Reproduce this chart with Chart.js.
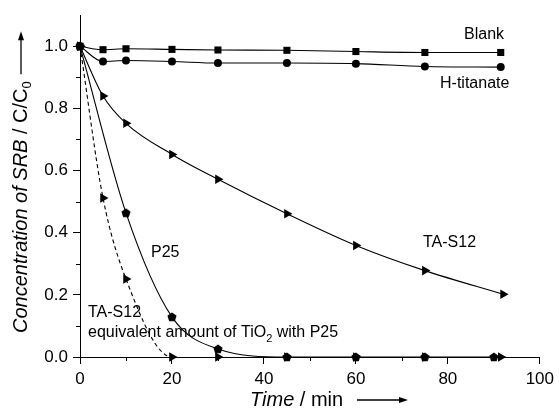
<!DOCTYPE html>
<html>
<head>
<meta charset="utf-8">
<script src="https://cdn.jsdelivr.net/npm/chart.js@4.4.0/dist/chart.umd.min.js"></script>
<style>
  html, body { margin: 0; padding: 0; background: #fff; }
  #wrap { width: 559px; height: 409px; }
</style>
</head>
<body>
<div id="wrap"><canvas id="chart" width="559" height="409"></canvas></div>
<script>
// time (min) and C/C0 values
var timeBlank = [0, 5, 10, 20, 30, 45, 60, 75, 91.5];
var blank = [1.0, 0.989, 0.992, 0.990, 0.988, 0.987, 0.983, 0.980, 0.980];

var timeHT = [0, 5, 10, 20, 30, 45, 60, 75, 91.5];
var hTitanate = [1.0, 0.951, 0.954, 0.951, 0.946, 0.946, 0.944, 0.935, 0.933];

var timeTA = [0, 5, 10, 20, 30, 45, 60, 75, 92];
var taS12 = [1.0, 0.840, 0.752, 0.652, 0.572, 0.461, 0.359, 0.278, 0.202];

var timeP25 = [0, 10, 20, 30, 45, 60, 75, 90];
var p25 = [1.0, 0.464, 0.129, 0.026, 0.0, 0.0, 0.0, 0.0];

var timeEq = [0, 5, 10, 20, 30, 45, 60, 75, 91.5];
var taS12Eq = [1.0, 0.512, 0.251, 0.0, 0.0, 0.0, 0.0, 0.0, 0.0];

var xTicks = [0, 20, 40, 60, 80, 100];
var yTicks = [0.0, 0.2, 0.4, 0.6, 0.8, 1.0];

var FONT = "'Liberation Sans', Arial, sans-serif";

function pts(xs, ys) {
  var out = [];
  for (var i = 0; i < xs.length; i++) out.push({x: xs[i], y: ys[i]});
  return out;
}

// pentagon marker for P25
var pent = document.createElement('canvas');
pent.width = 10; pent.height = 10;
(function() {
  var c = pent.getContext('2d');
  c.beginPath();
  for (var i = 0; i < 5; i++) {
    var a = -Math.PI / 2 + i * 2 * Math.PI / 5;
    var px = 5 + 4.8 * Math.cos(a), py = 5.3 + 4.8 * Math.sin(a);
    if (i === 0) c.moveTo(px, py); else c.lineTo(px, py);
  }
  c.closePath();
  c.fillStyle = '#000';
  c.fill();
})();

function isMajorY(v) { return yTicks.some(function(t) { return Math.abs(t - v) < 1e-6; }); }
function isMajorX(v) { return xTicks.indexOf(Math.round(v)) >= 0 && Math.abs(v - Math.round(v)) < 1e-6; }

function arrow(ctx, x1, y1, x2, y2) {
  var ang = Math.atan2(y2 - y1, x2 - x1);
  ctx.beginPath();
  ctx.moveTo(x1, y1);
  ctx.lineTo(x2 - 7 * Math.cos(ang), y2 - 7 * Math.sin(ang));
  ctx.lineWidth = 1.3;
  ctx.strokeStyle = '#000';
  ctx.stroke();
  ctx.beginPath();
  ctx.moveTo(x2, y2);
  ctx.lineTo(x2 - 9 * Math.cos(ang) + 3 * Math.sin(ang), y2 - 9 * Math.sin(ang) - 3 * Math.cos(ang));
  ctx.lineTo(x2 - 9 * Math.cos(ang) - 3 * Math.sin(ang), y2 - 9 * Math.sin(ang) + 3 * Math.cos(ang));
  ctx.closePath();
  ctx.fillStyle = '#000';
  ctx.fill();
}

var extras = {
  id: 'extras',
  afterDraw: function(chart) {
    var ctx = chart.ctx;
    var xs = chart.scales.x, ys = chart.scales.y;
    var area = chart.chartArea;
    ctx.save();
    ctx.strokeStyle = '#000';
    ctx.lineWidth = 1;
    // minor ticks
    [0.1, 0.3, 0.5, 0.7, 0.9].forEach(function(v) {
      var py = Math.round(ys.getPixelForValue(v)) + 0.5;
      ctx.beginPath(); ctx.moveTo(area.left - 4, py); ctx.lineTo(area.left, py); ctx.stroke();
    });
    [10, 30, 50, 70, 90].forEach(function(v) {
      var px = Math.round(xs.getPixelForValue(v)) + 0.5;
      ctx.beginPath(); ctx.moveTo(px, area.bottom); ctx.lineTo(px, area.bottom + 4); ctx.stroke();
    });

    ctx.fillStyle = '#000';
    ctx.textBaseline = 'middle';
    ctx.textAlign = 'left';

    // x axis title
    ctx.font = 'italic 20px ' + FONT;
    ctx.fillText('Time', 250, 400);
    var w = ctx.measureText('Time').width;
    ctx.font = '20px ' + FONT;
    ctx.fillText(' / min', 250 + w, 400);
    arrow(ctx, 357, 400, 408, 400);

    // y axis title
    ctx.save();
    ctx.translate(21, 333);
    ctx.rotate(-Math.PI / 2);
    ctx.font = 'italic 20px ' + FONT;
    ctx.fillText('Concentration of SRB', 0, 0);
    var p = ctx.measureText('Concentration of SRB').width;
    ctx.font = '20px ' + FONT;
    ctx.fillText(' / C/C', p, 0);
    p += ctx.measureText(' / C/C').width;
    ctx.font = '13px ' + FONT;
    ctx.fillText('0', p, 6);
    p += ctx.measureText('0').width;
    arrow(ctx, p + 7, 0, p + 50, 0);
    ctx.restore();

    // curve labels
    ctx.font = '16px ' + FONT;
    ctx.fillText('Blank', 464, 35);
    ctx.fillText('H-titanate', 440, 84);
    ctx.fillText('TA-S12', 423, 243);
    ctx.fillText('P25', 151, 253);
    ctx.fillText('TA-S12', 88, 313);
    var s = 'equivalent amount of TiO';
    ctx.fillText(s, 88, 333);
    var q = 88 + ctx.measureText(s).width;
    ctx.font = '11px ' + FONT;
    ctx.fillText('2', q, 339);
    q += ctx.measureText('2').width;
    ctx.font = '16px ' + FONT;
    ctx.fillText(' with P25', q, 333);
    ctx.restore();
  }
};

var common = {
  borderColor: '#000',
  backgroundColor: '#000',
  pointBackgroundColor: '#000',
  pointBorderColor: '#000',
  borderWidth: 1.1,
  pointBorderWidth: 0,
  cubicInterpolationMode: 'monotone',
  clip: false,
  fill: false
};

function ds(label, data, extra) {
  var d = Object.assign({label: label, data: data}, common);
  return Object.assign(d, extra);
}

new Chart(document.getElementById('chart'), {
  type: 'line',
  data: {
    datasets: [
      ds('Blank', pts(timeBlank, blank), {pointStyle: 'rect', pointRadius: 5}),
      ds('H-titanate', pts(timeHT, hTitanate), {pointStyle: 'circle', pointRadius: 4}),
      ds('TA-S12', pts(timeTA, taS12), {pointStyle: 'triangle', pointRotation: 90, pointRadius: 5.5}),
      ds('TA-S12 equivalent', pts(timeEq, taS12Eq), {
        pointStyle: 'triangle', pointRotation: 90, pointRadius: 5.5,
        borderDash: [4, 3],
        segment: {
          borderColor: function(c) { return (c.p0.parsed.y === 0 && c.p1.parsed.y === 0) ? 'rgba(0,0,0,0)' : '#000'; }
        }
      }),
      ds('P25', pts(timeP25, p25), {pointStyle: pent, pointRadius: 5})
    ]
  },
  options: {
    responsive: false,
    animation: false,
    layout: { padding: { top: 15, right: 16, left: 0, bottom: 0 } },
    plugins: {
      legend: { display: false },
      tooltip: { enabled: false }
    },
    scales: {
      x: {
        type: 'linear',
        min: 0, max: 100,
        afterFit: function(s) { s.height = 52; },
        border: { color: '#000', width: 1 },
        grid: {
          drawOnChartArea: false,
          tickLength: 7,
          tickColor: function(c) { return isMajorX(c.tick.value) ? '#000' : 'rgba(0,0,0,0)'; }
        },
        ticks: {
          stepSize: 10,
          padding: 5,
          maxRotation: 0,
          autoSkip: false,
          color: '#000',
          font: { family: FONT, size: 17 },
          callback: function(v) { return isMajorX(v) ? String(v) : ''; }
        }
      },
      y: {
        min: 0, max: 1.1,
        afterFit: function(s) { s.width = 80; },
        border: { color: '#000', width: 1 },
        grid: {
          drawOnChartArea: false,
          tickLength: 7,
          tickColor: function(c) { return isMajorY(c.tick.value) ? '#000' : 'rgba(0,0,0,0)'; }
        },
        ticks: {
          stepSize: 0.1,
          padding: 5,
          autoSkip: false,
          color: '#000',
          font: { family: FONT, size: 17 },
          callback: function(v) { return isMajorY(v) ? v.toFixed(1) : ''; }
        }
      }
    }
  },
  plugins: [extras]
});
</script>
</body>
</html>
